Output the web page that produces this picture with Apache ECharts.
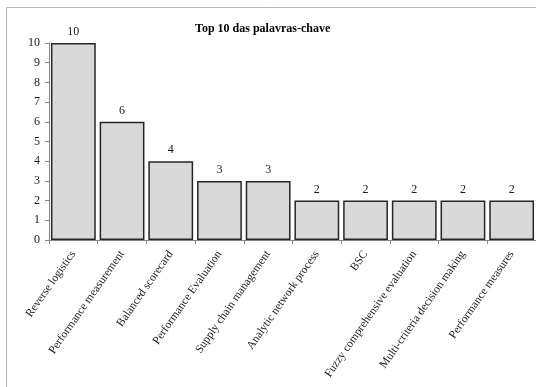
<!DOCTYPE html>
<html>
<head>
<meta charset="utf-8">
<script src="https://cdn.jsdelivr.net/npm/echarts@6/dist/echarts.min.js"></script>
<style>
  html, body { margin: 0; padding: 0; background: #fff; }
  #chart { width: 536px; height: 387px; }
</style>
</head>
<body>
<div id="chart"></div>
<script>
// Keyword frequency, top 10
const keywords = [
  'Reverse logistics',
  'Performance measurement',
  'Balanced scorecard',
  'Performance Evaluation',
  'Supply chain management',
  'Analytic network process',
  'BSC',
  'Fuzzy comprehensive evaluation',
  'Multi-criteria decision making',
  'Performance measures'
];
const counts = [10, 6, 4, 3, 3, 2, 2, 2, 2, 2];
const yTicks = [0, 1, 2, 3, 4, 5, 6, 7, 8, 9, 10];

const serif = '"Liberation Serif", "Times New Roman", serif';

const chart = echarts.init(document.getElementById('chart'));
chart.setOption({
  animation: false,
  textStyle: { fontFamily: serif },
  title: {
    text: 'Top 10 das palavras-chave',
    left: 190,
    top: 18,
    textStyle: { fontFamily: serif, fontSize: 12, fontWeight: 'bold', color: '#000' }
  },
  graphic: [{
    type: 'rect',
    shape: { x: 6.5, y: 7.5, width: 600, height: 600 },
    style: { fill: 'none', stroke: '#b5b5b5', lineWidth: 1 },
    z: -1
  }],
  grid: { left: 49, top: 43, width: 490, height: 197, containLabel: false },
  xAxis: {
    type: 'category',
    data: keywords,
    axisLine: { lineStyle: { color: '#868686', width: 1 } },
    axisTick: { show: true, length: 4, alignWithLabel: false, lineStyle: { color: '#868686' } },
    axisLabel: {
      interval: 0,
      rotate: 55,
      margin: 12,
      fontFamily: serif,
      fontSize: 11.5,
      color: '#1a1a1a'
    },
    splitLine: { show: false }
  },
  yAxis: {
    type: 'value',
    min: yTicks[0],
    max: yTicks[yTicks.length - 1],
    interval: 1,
    axisLine: { show: true, lineStyle: { color: '#868686', width: 1 } },
    axisTick: { show: true, length: 4, lineStyle: { color: '#868686' } },
    axisLabel: { fontFamily: serif, fontSize: 12, color: '#1a1a1a', margin: 9 },
    splitLine: { show: false }
  },
  series: [{
    type: 'bar',
    data: counts,
    barCategoryGap: '8%',
    itemStyle: { color: '#d9d9d9', borderColor: '#262626', borderWidth: 1.5 },
    label: {
      show: true,
      position: 'top',
      distance: 5,
      fontFamily: serif,
      fontSize: 12,
      color: '#1a1a1a'
    }
  }]
});
</script>
</body>
</html>
